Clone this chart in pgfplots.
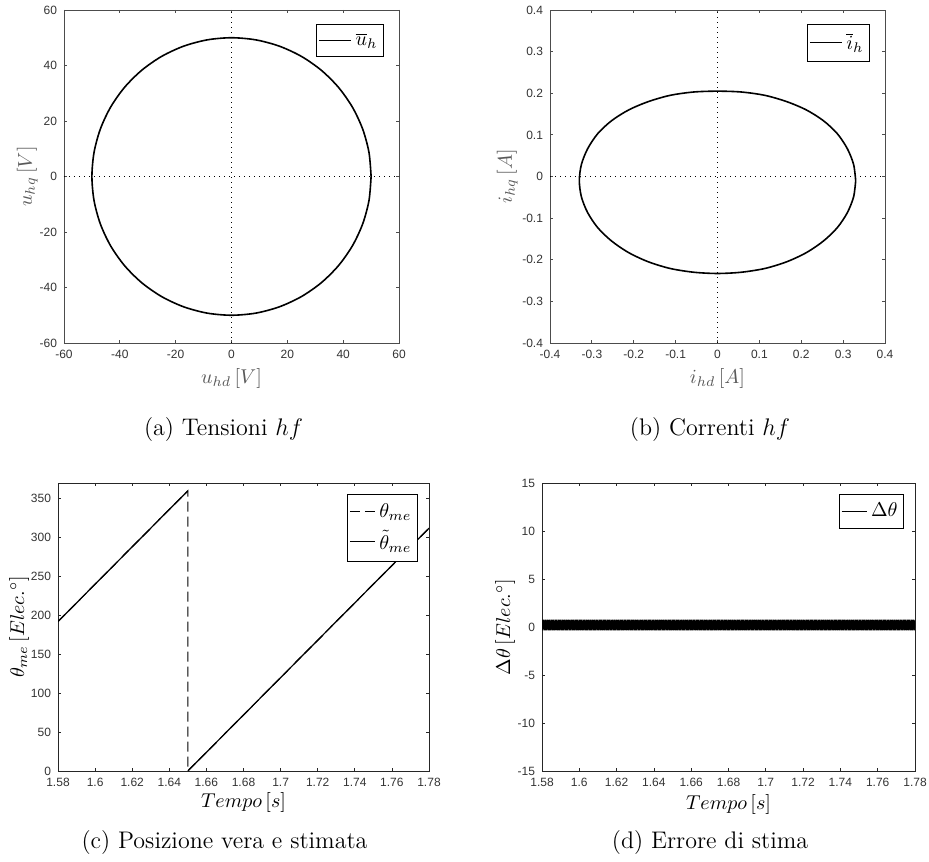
\documentclass[border=0pt]{standalone}
\usepackage{pgfplots}
\pgfplotsset{compat=1.18}
\usepackage{fontspec}
\newfontfamily\arialfont{Liberation Sans}
\pgfplotsset{
 matlab/.style={
  scale only axis,
  tick align=inside,
  major tick length=1.6pt,
  axis line style={black!70, line width=0.4pt},
  every tick/.style={black!70, line width=0.4pt},
  ticklabel style={font=\arialfont\fontsize{6}{7}\selectfont, text=black!80},
  /pgf/number format/assume math mode=true,
  label style={font=\fontsize{10}{12}\selectfont},
  legend style={font=\fontsize{10}{12}\selectfont, draw=black, fill=white, inner xsep=1pt, inner ysep=2.2pt, row sep=3pt, line width=0.4pt},
  legend cell align=left,
 },
 longleg/.style={legend image code/.code={\draw[##1, line width=0.45pt] (0pt,0pt) -- (16pt,0pt);}},
 shortleg/.style={legend image code/.code={\draw[##1, line width=0.45pt] (0pt,0pt) -- (12.5pt,0pt);}},
}
\begin{document}
\begin{tikzpicture}
\useasboundingbox (0,0) rectangle (464.5pt,430.5pt);
% (a)
\begin{axis}[matlab, longleg, at={(32pt,259pt)}, anchor=south west, width=167.5pt, height=166.5pt,
 xmin=-60, xmax=60, ymin=-60, ymax=60, xtick={-60,-40,...,60}, ytick={-60,-40,...,60},
 xlabel={$u_{hd}\,[V]$}, ylabel={$u_{hq}\,[V]$},
 xlabel style={at={(axis description cs:0.5,-0.108)}, anchor=center, text=black!65},
 ylabel style={at={(axis description cs:-0.110,0.5)}, anchor=center, text=black!65},
 legend style={at={(0.955,0.958)}, anchor=north east}]
\addplot[black, dotted, line width=0.5pt, forget plot] coordinates {(-60,0) (60,0)};
\addplot[black, dotted, line width=0.5pt, forget plot] coordinates {(0,-60) (0,60)};
\addplot[black, line width=0.8pt, smooth] coordinates {(50,0) (49.24,8.68) (46.98,17.10) (43.30,25) (38.30,32.14) (32.14,38.30) (25,43.30) (17.10,46.98) (8.68,49.24) (0,50) (-8.68,49.24) (-17.10,46.98) (-25,43.30) (-32.14,38.30) (-38.30,32.14) (-43.30,25) (-46.98,17.10) (-49.24,8.68) (-50,0) (-49.24,-8.68) (-46.98,-17.10) (-43.30,-25) (-38.30,-32.14) (-32.14,-38.30) (-25,-43.30) (-17.10,-46.98) (-8.68,-49.24) (0,-50) (8.68,-49.24) (17.10,-46.98) (25,-43.30) (32.14,-38.30) (38.30,-32.14) (43.30,-25) (46.98,-17.10) (49.24,-8.68) (50,0)};
\addlegendentry{$\overline{u}_h$}
\end{axis}
% (b)
\begin{axis}[matlab, longleg, at={(275pt,259pt)}, anchor=south west, width=167.5pt, height=166.5pt,
 xmin=-0.4, xmax=0.4, ymin=-0.4, ymax=0.4, xtick={-0.4,-0.3,...,0.4}, ytick={-0.4,-0.3,...,0.4},
 xlabel={$i_{hd}\,[A]$}, ylabel={$i_{hq}\,[A]$},
 xlabel style={at={(axis description cs:0.5,-0.108)}, anchor=center, text=black!65},
 ylabel style={at={(axis description cs:-0.128,0.5)}, anchor=center, text=black!65},
 legend style={at={(0.955,0.958)}, anchor=north east}]
\addplot[black, dotted, line width=0.5pt, forget plot] coordinates {(-0.4,0) (0.4,0)};
\addplot[black, dotted, line width=0.5pt, forget plot] coordinates {(0,-0.4) (0,0.4)};
\addplot[black, line width=0.8pt, smooth] coordinates {(0.33,-0.01) (0.325,0.029) (0.310,0.067) (0.286,0.103) (0.253,0.134) (0.212,0.160) (0.165,0.180) (0.113,0.195) (0.057,0.203) (0,0.205) (-0.057,0.203) (-0.113,0.195) (-0.165,0.180) (-0.212,0.160) (-0.253,0.134) (-0.286,0.103) (-0.310,0.067) (-0.325,0.029) (-0.33,-0.01) (-0.325,-0.049) (-0.310,-0.087) (-0.286,-0.123) (-0.253,-0.155) (-0.212,-0.183) (-0.165,-0.205) (-0.113,-0.221) (-0.057,-0.230) (0,-0.233) (0.057,-0.230) (0.113,-0.221) (0.165,-0.205) (0.212,-0.183) (0.253,-0.155) (0.286,-0.123) (0.310,-0.087) (0.325,-0.049) (0.33,-0.01)};
\addlegendentry{$\overline{i}_h$}
\end{axis}
% (c)
\begin{axis}[matlab, shortleg, at={(29pt,45pt)}, anchor=south west, width=185.5pt, height=144pt,
 xmin=1.58, xmax=1.78, ymin=0, ymax=370, xtick={1.58,1.6,1.62,1.64,1.66,1.68,1.7,1.72,1.74,1.76,1.78}, ytick={0,50,...,350},
 axis line style={black!85}, every tick/.style={black!85},
 xlabel={$Tempo\,[s]$}, ylabel={$\theta_{me}\,[Elec.^\circ]$},
 xlabel style={at={(axis description cs:0.5,-0.111)}, anchor=center},
 ylabel style={at={(axis description cs:-0.105,0.5)}, anchor=center},
 legend style={at={(0.970,0.962)}, anchor=north east, inner ysep=2.5pt, row sep=1.2pt}]
\addplot[black, line width=0.6pt, dash pattern=on 5pt off 2.5pt] coordinates {(1.58,192) (1.65,360) (1.65,0) (1.78,312)};
\addlegendentry{$\theta_{me}$}
\addplot[black, line width=0.6pt] coordinates {(1.58,192) (1.65,360)};
\addlegendentry{$\tilde{\theta}_{me}$}
\addplot[black, line width=0.6pt, forget plot] coordinates {(1.65,0) (1.78,312)};
\end{axis}
% (d)
\begin{axis}[matlab, shortleg, at={(271pt,45pt)}, anchor=south west, width=186.5pt, height=144pt,
 xmin=1.58, xmax=1.78, ymin=-15, ymax=15, xtick={1.58,1.6,1.62,1.64,1.66,1.68,1.7,1.72,1.74,1.76,1.78}, ytick={-15,-10,...,15},
 axis line style={black!85}, every tick/.style={black!85},
 xlabel={$Tempo\,[s]$}, ylabel={$\Delta\theta\,[Elec.^\circ]$},
 xlabel style={at={(axis description cs:0.5,-0.118)}, anchor=center},
 ylabel style={at={(axis description cs:-0.099,0.5)}, anchor=center},
 legend style={at={(0.9705,0.962)}, anchor=north east}]
\addplot[black, line width=0.7pt, forget plot] coordinates {
(1.5800,0.75)(1.5805,-0.35)(1.5810,0.75)(1.5815,-0.35)(1.5820,0.75)(1.5825,-0.35)(1.5830,0.75)(1.5835,-0.35)(1.5840,0.75)(1.5845,-0.35)
(1.5850,0.75)(1.5855,-0.35)(1.5860,0.75)(1.5865,-0.35)(1.5870,0.75)(1.5875,-0.35)(1.5880,0.75)(1.5885,-0.35)(1.5890,0.75)(1.5895,-0.35)
(1.5900,0.75)(1.5905,-0.35)(1.5910,0.75)(1.5915,-0.35)(1.5920,0.75)(1.5925,-0.35)(1.5930,0.75)(1.5935,-0.35)(1.5940,0.75)(1.5945,-0.35)
(1.5950,0.75)(1.5955,-0.35)(1.5960,0.75)(1.5965,-0.35)(1.5970,0.75)(1.5975,-0.35)(1.5980,0.75)(1.5985,-0.35)(1.5990,0.75)(1.5995,-0.35)
(1.6000,0.75)(1.6005,-0.35)(1.6010,0.75)(1.6015,-0.35)(1.6020,0.75)(1.6025,-0.35)(1.6030,0.75)(1.6035,-0.35)(1.6040,0.75)(1.6045,-0.35)
(1.6050,0.75)(1.6055,-0.35)(1.6060,0.75)(1.6065,-0.35)(1.6070,0.75)(1.6075,-0.35)(1.6080,0.75)(1.6085,-0.35)(1.6090,0.75)(1.6095,-0.35)
(1.6100,0.75)(1.6105,-0.35)(1.6110,0.75)(1.6115,-0.35)(1.6120,0.75)(1.6125,-0.35)(1.6130,0.75)(1.6135,-0.35)(1.6140,0.75)(1.6145,-0.35)
(1.6150,0.75)(1.6155,-0.35)(1.6160,0.75)(1.6165,-0.35)(1.6170,0.75)(1.6175,-0.35)(1.6180,0.75)(1.6185,-0.35)(1.6190,0.75)(1.6195,-0.35)
(1.6200,0.75)(1.6205,-0.35)(1.6210,0.75)(1.6215,-0.35)(1.6220,0.75)(1.6225,-0.35)(1.6230,0.75)(1.6235,-0.35)(1.6240,0.75)(1.6245,-0.35)
(1.6250,0.75)(1.6255,-0.35)(1.6260,0.75)(1.6265,-0.35)(1.6270,0.75)(1.6275,-0.35)(1.6280,0.75)(1.6285,-0.35)(1.6290,0.75)(1.6295,-0.35)
(1.6300,0.75)(1.6305,-0.35)(1.6310,0.75)(1.6315,-0.35)(1.6320,0.75)(1.6325,-0.35)(1.6330,0.75)(1.6335,-0.35)(1.6340,0.75)(1.6345,-0.35)
(1.6350,0.75)(1.6355,-0.35)(1.6360,0.75)(1.6365,-0.35)(1.6370,0.75)(1.6375,-0.35)(1.6380,0.75)(1.6385,-0.35)(1.6390,0.75)(1.6395,-0.35)
(1.6400,0.75)(1.6405,-0.35)(1.6410,0.75)(1.6415,-0.35)(1.6420,0.75)(1.6425,-0.35)(1.6430,0.75)(1.6435,-0.35)(1.6440,0.75)(1.6445,-0.35)
(1.6450,0.75)(1.6455,-0.35)(1.6460,0.75)(1.6465,-0.35)(1.6470,0.75)(1.6475,-0.35)(1.6480,0.75)(1.6485,-0.35)(1.6490,0.75)(1.6495,-0.35)
(1.6500,0.75)(1.6505,-0.35)(1.6510,0.75)(1.6515,-0.35)(1.6520,0.75)(1.6525,-0.35)(1.6530,0.75)(1.6535,-0.35)(1.6540,0.75)(1.6545,-0.35)
(1.6550,0.75)(1.6555,-0.35)(1.6560,0.75)(1.6565,-0.35)(1.6570,0.75)(1.6575,-0.35)(1.6580,0.75)(1.6585,-0.35)(1.6590,0.75)(1.6595,-0.35)
(1.6600,0.75)(1.6605,-0.35)(1.6610,0.75)(1.6615,-0.35)(1.6620,0.75)(1.6625,-0.35)(1.6630,0.75)(1.6635,-0.35)(1.6640,0.75)(1.6645,-0.35)
(1.6650,0.75)(1.6655,-0.35)(1.6660,0.75)(1.6665,-0.35)(1.6670,0.75)(1.6675,-0.35)(1.6680,0.75)(1.6685,-0.35)(1.6690,0.75)(1.6695,-0.35)
(1.6700,0.75)(1.6705,-0.35)(1.6710,0.75)(1.6715,-0.35)(1.6720,0.75)(1.6725,-0.35)(1.6730,0.75)(1.6735,-0.35)(1.6740,0.75)(1.6745,-0.35)
(1.6750,0.75)(1.6755,-0.35)(1.6760,0.75)(1.6765,-0.35)(1.6770,0.75)(1.6775,-0.35)(1.6780,0.75)(1.6785,-0.35)(1.6790,0.75)(1.6795,-0.35)
(1.6800,0.75)(1.6805,-0.35)(1.6810,0.75)(1.6815,-0.35)(1.6820,0.75)(1.6825,-0.35)(1.6830,0.75)(1.6835,-0.35)(1.6840,0.75)(1.6845,-0.35)
(1.6850,0.75)(1.6855,-0.35)(1.6860,0.75)(1.6865,-0.35)(1.6870,0.75)(1.6875,-0.35)(1.6880,0.75)(1.6885,-0.35)(1.6890,0.75)(1.6895,-0.35)
(1.6900,0.75)(1.6905,-0.35)(1.6910,0.75)(1.6915,-0.35)(1.6920,0.75)(1.6925,-0.35)(1.6930,0.75)(1.6935,-0.35)(1.6940,0.75)(1.6945,-0.35)
(1.6950,0.75)(1.6955,-0.35)(1.6960,0.75)(1.6965,-0.35)(1.6970,0.75)(1.6975,-0.35)(1.6980,0.75)(1.6985,-0.35)(1.6990,0.75)(1.6995,-0.35)
(1.7000,0.75)(1.7005,-0.35)(1.7010,0.75)(1.7015,-0.35)(1.7020,0.75)(1.7025,-0.35)(1.7030,0.75)(1.7035,-0.35)(1.7040,0.75)(1.7045,-0.35)
(1.7050,0.75)(1.7055,-0.35)(1.7060,0.75)(1.7065,-0.35)(1.7070,0.75)(1.7075,-0.35)(1.7080,0.75)(1.7085,-0.35)(1.7090,0.75)(1.7095,-0.35)
(1.7100,0.75)(1.7105,-0.35)(1.7110,0.75)(1.7115,-0.35)(1.7120,0.75)(1.7125,-0.35)(1.7130,0.75)(1.7135,-0.35)(1.7140,0.75)(1.7145,-0.35)
(1.7150,0.75)(1.7155,-0.35)(1.7160,0.75)(1.7165,-0.35)(1.7170,0.75)(1.7175,-0.35)(1.7180,0.75)(1.7185,-0.35)(1.7190,0.75)(1.7195,-0.35)
(1.7200,0.75)(1.7205,-0.35)(1.7210,0.75)(1.7215,-0.35)(1.7220,0.75)(1.7225,-0.35)(1.7230,0.75)(1.7235,-0.35)(1.7240,0.75)(1.7245,-0.35)
(1.7250,0.75)(1.7255,-0.35)(1.7260,0.75)(1.7265,-0.35)(1.7270,0.75)(1.7275,-0.35)(1.7280,0.75)(1.7285,-0.35)(1.7290,0.75)(1.7295,-0.35)
(1.7300,0.75)(1.7305,-0.35)(1.7310,0.75)(1.7315,-0.35)(1.7320,0.75)(1.7325,-0.35)(1.7330,0.75)(1.7335,-0.35)(1.7340,0.75)(1.7345,-0.35)
(1.7350,0.75)(1.7355,-0.35)(1.7360,0.75)(1.7365,-0.35)(1.7370,0.75)(1.7375,-0.35)(1.7380,0.75)(1.7385,-0.35)(1.7390,0.75)(1.7395,-0.35)
(1.7400,0.75)(1.7405,-0.35)(1.7410,0.75)(1.7415,-0.35)(1.7420,0.75)(1.7425,-0.35)(1.7430,0.75)(1.7435,-0.35)(1.7440,0.75)(1.7445,-0.35)
(1.7450,0.75)(1.7455,-0.35)(1.7460,0.75)(1.7465,-0.35)(1.7470,0.75)(1.7475,-0.35)(1.7480,0.75)(1.7485,-0.35)(1.7490,0.75)(1.7495,-0.35)
(1.7500,0.75)(1.7505,-0.35)(1.7510,0.75)(1.7515,-0.35)(1.7520,0.75)(1.7525,-0.35)(1.7530,0.75)(1.7535,-0.35)(1.7540,0.75)(1.7545,-0.35)
(1.7550,0.75)(1.7555,-0.35)(1.7560,0.75)(1.7565,-0.35)(1.7570,0.75)(1.7575,-0.35)(1.7580,0.75)(1.7585,-0.35)(1.7590,0.75)(1.7595,-0.35)
(1.7600,0.75)(1.7605,-0.35)(1.7610,0.75)(1.7615,-0.35)(1.7620,0.75)(1.7625,-0.35)(1.7630,0.75)(1.7635,-0.35)(1.7640,0.75)(1.7645,-0.35)
(1.7650,0.75)(1.7655,-0.35)(1.7660,0.75)(1.7665,-0.35)(1.7670,0.75)(1.7675,-0.35)(1.7680,0.75)(1.7685,-0.35)(1.7690,0.75)(1.7695,-0.35)
(1.7700,0.75)(1.7705,-0.35)(1.7710,0.75)(1.7715,-0.35)(1.7720,0.75)(1.7725,-0.35)(1.7730,0.75)(1.7735,-0.35)(1.7740,0.75)(1.7745,-0.35)
(1.7750,0.75)(1.7755,-0.35)(1.7760,0.75)(1.7765,-0.35)(1.7770,0.75)(1.7775,-0.35)(1.7780,0.75)(1.7785,-0.35)(1.7790,0.75)(1.7795,-0.35)
(1.7800,0.75)};
\addlegendimage{black, line width=0.5pt}
\addlegendentry{$\Delta\theta$}
\end{axis}
% captions
\node[font=\fontsize{12}{14}\selectfont] at (111.75pt,215.5pt) {(a) Tensioni $hf$};
\node[font=\fontsize{12}{14}\selectfont] at (355pt,215.5pt) {(b) Correnti $hf$};
\node[font=\fontsize{12}{14}\selectfont] at (112.25pt,9pt) {(c) Posizione vera e stimata};
\node[font=\fontsize{12}{14}\selectfont] at (355pt,9pt) {(d) Errore di stima};
\end{tikzpicture}
\end{document}
